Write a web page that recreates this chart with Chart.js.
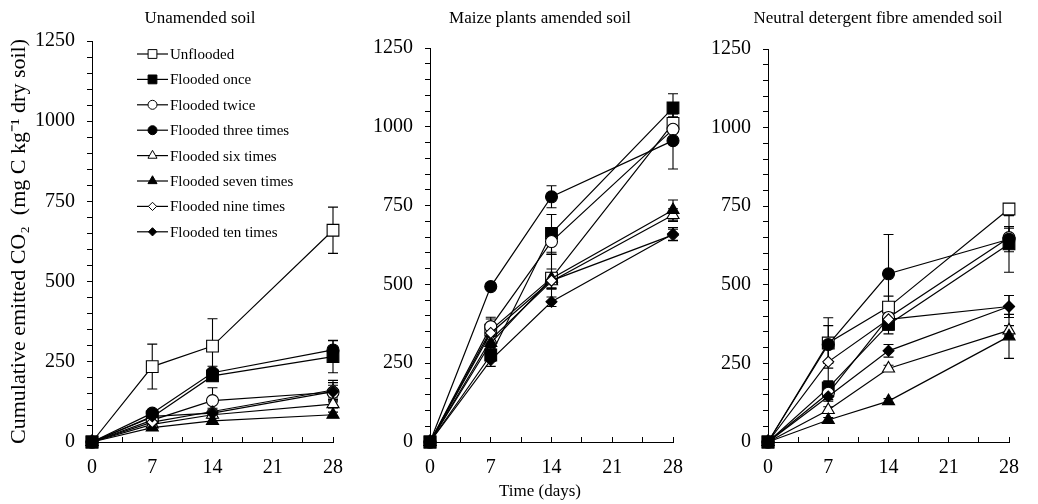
<!DOCTYPE html>
<html><head><meta charset="utf-8">
<script src="https://cdn.jsdelivr.net/npm/chart.js@4.4.1/dist/chart.umd.min.js"></script>
<style>
html,body{margin:0;padding:0;background:#fff;}
#wrap{position:relative;width:1038px;height:504px;overflow:hidden;background:#fff;}
.panel{position:absolute;top:0;height:504px;}
</style></head><body>
<div id="wrap">
<div class="panel" style="left:0;width:362px"><canvas id="c1" width="362" height="504"></canvas></div>
<div class="panel" style="left:362px;width:340px"><canvas id="c2" width="340" height="504"></canvas></div>
<div class="panel" style="left:702px;width:336px"><canvas id="c3" width="336" height="504"></canvas></div>
</div>
<script>
// ---------- data ----------
const days = [0, 7, 14, 28];
const xTickLabels = ['0', '7', '14', '21', '28'];
const yTickLabels = ['0', '250', '500', '750', '1000', '1250'];
const seriesNames = ['Unflooded', 'Flooded once', 'Flooded twice', 'Flooded three times',
  'Flooded six times', 'Flooded seven times', 'Flooded nine times', 'Flooded ten times'];
const panelTitles = ['Unamended soil', 'Maize plants amended soil', 'Neutral detergent fibre amended soil'];
const xAxisTitle = 'Time (days)';
const yAxisTitle = 'Cumulative emitted CO\u2082  (mg C kg\u207B\u00B9 dry soil)';

// Unamended soil (means, then standard errors)
const unUnflooded = [0, 235, 299, 660];
const unOnce      = [0, 78, 206, 266];
const unTwice     = [0, 68, 129, 155];
const unThree     = [0, 90, 216, 287];
const unSix       = [0, 55, 85, 118];
const unSeven     = [0, 45, 66, 85];
const unNine      = [0, 62, 95, 162];
const unTen       = [0, 80, 90, 157];
const unUnfloodedErr = [0, 70, 85, 72];
const unOnceErr      = [0, 10, 15, 50];
const unTwiceErr     = [0, 8, 40, 30];
const unThreeErr     = [0, 10, 20, 30];
const unSixErr       = [0, 8, 10, 12];
const unSevenErr     = [0, 6, 8, 8];
const unNineErr      = [0, 8, 10, 30];
const unTenErr       = [0, 8, 10, 20];

// Maize plants amended soil
const mzUnflooded = [0, 355, 520, 1011];
const mzOnce      = [0, 276, 662, 1060];
const mzTwice     = [0, 366, 636, 992];
const mzThree     = [0, 493, 778, 956];
const mzSix       = [0, 325, 510, 720];
const mzSeven     = [0, 314, 519, 736];
const mzNine      = [0, 346, 512, 657];
const mzTen       = [0, 260, 445, 660];
const mzUnfloodedErr = [0, 35, 75, 30];
const mzOnceErr      = [0, 20, 60, 45];
const mzTwiceErr     = [0, 30, 40, 40];
const mzThreeErr     = [0, 8, 35, 90];
const mzSixErr       = [0, 25, 25, 20];
const mzSevenErr     = [0, 20, 30, 32];
const mzNineErr      = [0, 25, 25, 18];
const mzTenErr       = [0, 20, 15, 20];

// Neutral detergent fibre amended soil
const ndUnflooded = [0, 315, 429, 741];
const ndOnce      = [0, 172, 374, 630];
const ndTwice     = [0, 155, 396, 650];
const ndThree     = [0, 310, 535, 645];
const ndSix       = [0, 102, 234, 355];
const ndSeven     = [0, 70, 130, 336];
const ndNine      = [0, 255, 390, 431];
const ndTen       = [0, 145, 290, 431];
const ndUnfloodedErr = [0, 80, 35, 15];
const ndOnceErr      = [0, 20, 30, 90];
const ndTwiceErr     = [0, 20, 40, 30];
const ndThreeErr     = [0, 60, 125, 40];
const ndSixErr       = [0, 10, 10, 15];
const ndSevenErr     = [0, 8, 8, 70];
const ndNineErr      = [0, 60, 30, 35];
const ndTenErr       = [0, 15, 20, 35];

// ---------- styles ----------
const markerStyles = ['rect', 'rect', 'circle', 'circle', 'triangle', 'triangle', 'rectRot', 'rectRot'];
const markerFill   = ['#fff', '#000', '#fff', '#000', '#fff', '#000', '#fff', '#000'];
const markerRadius = [8.3, 8.3, 6, 6, 7, 7, 5.5, 5.5];
const FONT = '"Liberation Serif", "Times New Roman", serif';

// ---------- plugins ----------
const errorBarPlugin = {
  id: 'errorBars',
  beforeDatasetsDraw(chart) {
    const ctx = chart.ctx, xs = chart.scales.x, ys = chart.scales.y;
    ctx.save();
    ctx.strokeStyle = '#000';
    ctx.lineWidth = 1.1;
    chart.data.datasets.forEach(ds => {
      ds.data.forEach((pt, i) => {
        const e = ds.errors[i];
        if (!e) return;
        const x = xs.getPixelForValue(pt.x);
        const yt = ys.getPixelForValue(pt.y + e);
        const yb = ys.getPixelForValue(pt.y - e);
        ctx.beginPath();
        ctx.moveTo(x, yt); ctx.lineTo(x, yb);
        ctx.moveTo(x - 5, yt); ctx.lineTo(x + 5, yt);
        ctx.moveTo(x - 5, yb); ctx.lineTo(x + 5, yb);
        ctx.stroke();
      });
    });
    ctx.restore();
  }
};

const legendPlugin = {
  id: 'lineLegend',
  afterDraw(chart, args, o) {
    if (!o || !o.show) return;
    const ctx = chart.ctx;
    ctx.save();
    chart.data.datasets.forEach((ds, i) => {
      const y = o.y0 + i * o.dy;
      ctx.strokeStyle = '#000';
      ctx.lineWidth = 1.2;
      ctx.beginPath(); ctx.moveTo(o.x0, y); ctx.lineTo(o.x1, y); ctx.stroke();
      ctx.fillStyle = ds.pointBackgroundColor;
      ctx.strokeStyle = '#000';
      ctx.lineWidth = 1;
      Chart.helpers.drawPoint(ctx, {pointStyle: ds.pointStyle, radius: ds.pointRadius * 0.75, borderWidth: 1, rotation: 0},
        (o.x0 + o.x1) / 2, y);
      ctx.fillStyle = '#000';
      ctx.font = o.fontSize + 'px ' + FONT;
      ctx.textAlign = 'left';
      ctx.textBaseline = 'middle';
      ctx.fillText(ds.label, o.x1 + 2, y + 1);
    });
    ctx.restore();
  }
};

const textPlugin = {
  id: 'panelText',
  afterDraw(chart, args, o) {
    const ctx = chart.ctx;
    ctx.save();
    ctx.fillStyle = '#000';
    ctx.textAlign = 'center';
    ctx.textBaseline = 'middle';
    ctx.font = o.fontSize + 'px ' + FONT;
    ctx.fillText(o.title, o.tx, o.ty);
    if (o.bottom) ctx.fillText(o.bottom, o.bx, o.by);
    ctx.restore();
  }
};

// ---------- panels ----------
const panels = [
  { id: 'c1', title: panelTitles[0],
    means: [unUnflooded, unOnce, unTwice, unThree, unSix, unSeven, unNine, unTen],
    errs: [unUnfloodedErr, unOnceErr, unTwiceErr, unThreeErr, unSixErr, unSevenErr, unNineErr, unTenErr],
    padR: 15, padT: 41, yW: 92, tx: 200, showY: true, legend: true, bottom: null },
  { id: 'c2', title: panelTitles[1],
    means: [mzUnflooded, mzOnce, mzTwice, mzThree, mzSix, mzSeven, mzNine, mzTen],
    errs: [mzUnfloodedErr, mzOnceErr, mzTwiceErr, mzThreeErr, mzSixErr, mzSevenErr, mzNineErr, mzTenErr],
    padR: 15, padT: 48, yW: 68, tx: 178, showY: false, legend: false, bottom: xAxisTitle },
  { id: 'c3', title: panelTitles[2],
    means: [ndUnflooded, ndOnce, ndTwice, ndThree, ndSix, ndSeven, ndNine, ndTen],
    errs: [ndUnfloodedErr, ndOnceErr, ndTwiceErr, ndThreeErr, ndSixErr, ndSevenErr, ndNineErr, ndTenErr],
    padR: 14, padT: 49, yW: 66, tx: 176, showY: false, legend: false, bottom: null }
];

panels.forEach(p => {
  const datasets = seriesNames.map((name, i) => ({
    label: name,
    data: days.map((d, j) => ({x: d, y: p.means[i][j]})),
    errors: p.errs[i],
    order: seriesNames.length - i,   // later series drawn on top
    borderColor: '#000',
    borderWidth: 1.2,
    pointStyle: markerStyles[i],
    pointRadius: markerRadius[i],
    pointBackgroundColor: markerFill[i],
    pointBorderColor: '#000',
    pointBorderWidth: 1.1,
    fill: false,
    tension: 0,
    clip: false
  }));
  new Chart(document.getElementById(p.id), {
    type: 'line',
    data: { datasets },
    plugins: [errorBarPlugin, legendPlugin, textPlugin],
    options: {
      responsive: false,
      devicePixelRatio: 1,
      animation: false,
      events: [],
      layout: { padding: { left: 0, right: p.padR, top: p.padT, bottom: 0 } },
      plugins: {
        legend: { display: false },
        tooltip: { enabled: false },
        lineLegend: { show: p.legend, x0: 137, x1: 168, y0: 54, dy: 25.4, fontSize: 15 },
        panelText: { title: p.title, tx: p.tx, ty: 19, fontSize: 17, bottom: p.bottom, bx: p.tx, by: 492 }
      },
      scales: {
        x: {
          type: 'linear', min: 0, max: 28,
          afterFit(s) { s.height = 62; },
          ticks: { stepSize: 3.5, autoSkip: false, maxRotation: 0, padding: 19, color: '#000',
            font: { family: FONT, size: 20 },
            callback(v) { const s = String(v); return xTickLabels.includes(s) ? s : ''; } },
          grid: { drawOnChartArea: false, drawTicks: true, tickLength: -5, color: '#000' },
          border: { color: '#000', width: 1 }
        },
        y: {
          type: 'linear', min: 0, max: 1250,
          afterFit(s) { s.width = p.yW; },
          ticks: { stepSize: 50, autoSkip: false, padding: 12, color: '#000',
            font: { family: FONT, size: 20 },
            callback(v) { const s = String(v); return yTickLabels.includes(s) ? s : ''; } },
          grid: { drawOnChartArea: false, drawTicks: true, tickLength: 5, color: '#000' },
          border: { color: '#000', width: 1 },
          title: { display: p.showY, text: yAxisTitle, color: '#000',
            font: { family: FONT, size: 22 }, padding: { top: 6, bottom: 0 } }
        }
      }
    }
  });
});
</script>
</body></html>
